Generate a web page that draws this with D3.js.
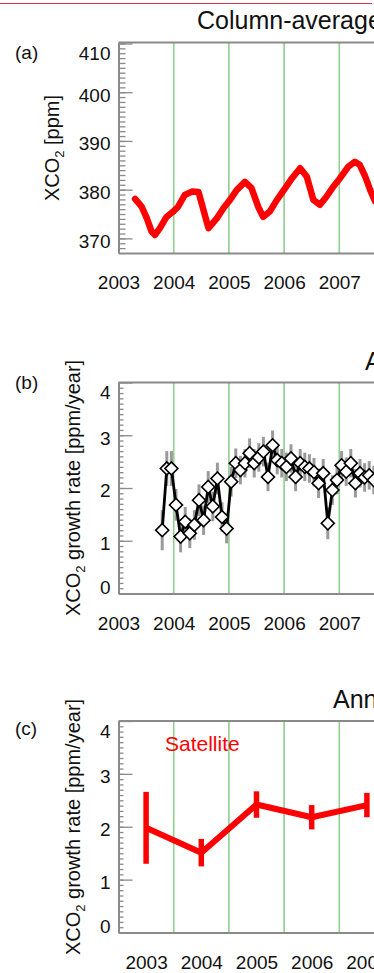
<!DOCTYPE html>
<meta charset="utf-8">
<style>
body { margin: 0; background: #fff; }
svg { display: block; font-family: 'Liberation Sans', Arial, sans-serif; }
text { fill: #111; }
.axis path.domain { stroke: #8a8a8a; stroke-width: 2px; }
.axis line { stroke: #8a8a8a; stroke-width: 1.3px; }
.axis text { font-size: 19px; fill: #111; }
.frame-top { stroke: #8a8a8a; stroke-width: 2px; }
.year-line { stroke: #8fcf8f; stroke-width: 1.6px; }
.panel-letter { font-size: 19px; }
.axis-title { font-size: 20px; text-anchor: middle; }
.panel-title { font-size: 25px; }
.xco2-line { fill: none; stroke: #ff0000; stroke-width: 6.5px; stroke-linejoin: round; stroke-linecap: round; }
.rate-err { stroke: #9a9a9a; stroke-width: 3px; }
.rate-line { fill: none; stroke: #000; stroke-width: 2.8px; stroke-linejoin: round; }
.rate-dot { fill: #fff; stroke: #000; stroke-width: 1.6px; }
.annual-line { fill: none; stroke: #ff0000; stroke-width: 6px; stroke-linejoin: round; }
.annual-err { stroke: #ff0000; stroke-width: 5.5px; }
.sat-label { font-size: 21px; fill: #ff0000; }
</style>
<svg width="374" height="973"></svg>
<script src="https://d3js.org/d3.v7.min.js"></script>
<script>
// ---- data ----
var yearTicks = [2003, 2004, 2005, 2006, 2007];
var ppmTicks = [370, 380, 390, 400, 410];
var rateTicks = [0, 1, 2, 3, 4];

// (a) column-averaged CO2
var xco2Dates = [2003.30, 2003.42, 2003.51, 2003.60, 2003.66, 2003.75, 2003.87, 2003.99,
                 2004.08, 2004.20, 2004.33, 2004.45, 2004.54, 2004.63, 2004.78, 2004.90,
                 2005.02, 2005.14, 2005.29, 2005.41, 2005.53, 2005.62, 2005.74, 2005.87,
                 2006.02, 2006.14, 2006.29, 2006.41, 2006.53, 2006.65, 2006.77, 2006.89,
                 2007.01, 2007.16, 2007.28, 2007.37, 2007.47, 2007.56, 2007.65];
var xco2Values = [378.1, 376.5, 374.2, 371.4, 370.7, 372.1, 374.4, 375.5,
                  376.5, 378.9, 379.6, 379.5, 375.8, 372.1, 374.1, 376.2,
                  377.9, 379.9, 381.6, 380.3, 376.5, 374.4, 375.5, 377.9,
                  380.3, 382.3, 384.4, 382.7, 377.9, 376.9, 378.6, 380.6,
                  382.3, 384.7, 385.7, 385.1, 382.7, 379.9, 377.6];

// (b) monthly growth rate
var growthMonths = ["2003-10","2003-11","2003-12",
  "2004-01","2004-02","2004-03","2004-04","2004-05","2004-06","2004-07","2004-08","2004-09","2004-10","2004-11","2004-12",
  "2005-01","2005-02","2005-03","2005-04","2005-05","2005-06","2005-07","2005-08","2005-09","2005-10","2005-11","2005-12",
  "2006-01","2006-02","2006-03","2006-04","2006-05","2006-06","2006-07","2006-08","2006-09","2006-10","2006-11","2006-12",
  "2007-01","2007-02","2007-03","2007-04","2007-05","2007-06","2007-07","2007-08"];
var growthValues = [1.20, 2.37, 2.37,
  1.68, 1.08, 1.36, 1.14, 1.30, 1.77, 1.39, 2.02, 1.65, 2.18, 1.45, 1.23,
  2.12, 2.47, 2.34, 2.47, 2.66, 2.47, 2.58, 2.69, 2.21, 2.81, 2.53, 2.47,
  2.40, 2.56, 2.21, 2.47, 2.40, 2.37, 2.30, 2.09, 2.28, 1.33, 1.96, 2.15,
  2.43, 2.31, 2.47, 2.09, 2.28, 2.20, 2.24, 2.15];
var growthErrors = [0.38, 0.33, 0.33,
  0.30, 0.30, 0.28, 0.28, 0.28, 0.30, 0.28, 0.30, 0.28, 0.30, 0.28, 0.28,
  0.28, 0.28, 0.27, 0.27, 0.28, 0.27, 0.27, 0.28, 0.27, 0.28, 0.27, 0.27,
  0.27, 0.27, 0.27, 0.27, 0.27, 0.27, 0.27, 0.28, 0.27, 0.30, 0.28, 0.27,
  0.27, 0.27, 0.27, 0.27, 0.27, 0.27, 0.27, 0.27];

// (c) annual mean growth rate
var annualYears = [2003, 2004, 2005, 2006, 2007];
var annualValues = [1.98, 1.51, 2.42, 2.18, 2.41];
var annualErrors = [0.68, 0.26, 0.25, 0.23, 0.23];

// ---- layout ----
var svg = d3.select("svg"),
    left = 118.5,
    yearW = 55.2,
    right = left + 6 * yearW;

svg.append("line")
    .attr("x1", 0).attr("x2", 372)
    .attr("y1", 3.5).attr("y2", 3.5)
    .attr("stroke", "#c8354f").attr("stroke-width", 1);

function monthToYear(s) {
  var p = s.split("-");
  return +p[0] + (+p[1] - 0.5) / 12;
}

// shared frame for a panel: green year lines, y axis with minor ticks
function drawFrame(x, y, yMajor, yMinor, greenYears, minorLen) {
  var top = y.range()[1], bottom = y.range()[0];
  var g = svg.append("g");

  g.selectAll(".year-line")
      .data(greenYears)
    .enter().append("line")
      .attr("class", "year-line")
      .attr("x1", x).attr("x2", x)
      .attr("y1", top).attr("y2", bottom);

  g.append("line")
      .attr("class", "frame-top")
      .attr("x1", left).attr("x2", right)
      .attr("y1", top).attr("y2", top);

  g.append("g")
      .attr("class", "axis")
      .attr("transform", "translate(" + left + ",0)")
      .call(d3.axisLeft(y).tickValues(yMinor).tickSize(-minorLen).tickSizeOuter(0).tickFormat(""));

  var yMax = d3.max(yMajor), yMin = d3.min(yMajor);
  var ax = g.append("g")
      .attr("class", "axis")
      .attr("transform", "translate(" + left + ",0)")
      .call(d3.axisLeft(y).tickValues(yMajor).tickSize(-14).tickSizeOuter(0).tickPadding(8).tickFormat(d3.format("d")));
  ax.selectAll(".tick text")
      .attr("dy", function(d) {
        if (d === yMax && y(d) - top < 3) return "0.86em";
        if (d === yMin && bottom - y(d) < 3) return "0em";
        return "0.47em";
      });

  return g;
}

function drawXLabels(x, y, ticks) {
  var bottom = y.range()[0];
  svg.append("g")
      .attr("class", "axis")
      .attr("transform", "translate(0," + bottom + ")")
      .call(d3.axisBottom(x).tickValues(ticks).tickSize(0).tickPadding(23).tickFormat(d3.format("d")));
}

function axisTitle(cx, cy, rest) {
  var t = svg.append("text")
      .attr("class", "axis-title")
      .attr("transform", "translate(" + cx + "," + cy + ") rotate(-90)");
  t.append("tspan").text("XCO");
  t.append("tspan").attr("font-size", "13px").attr("dy", 5).text("2");
  t.append("tspan").attr("dy", -5).text(rest);
}

// ---- (a) ----
var xA = d3.scaleLinear().domain([2003, 2009]).range([left, right]);
var yA = d3.scaleLinear().domain([367, 410.2]).range([253, 42.5]);

drawFrame(xA, yA, ppmTicks, d3.range(368, 411, 1), [2004, 2005, 2006, 2007, 2008], 7);

svg.append("path")
    .datum(xco2Dates.map(function(d, i) { return [d, xco2Values[i]]; }))
    .attr("class", "xco2-line")
    .attr("d", d3.line().x(function(d) { return xA(d[0]); }).y(function(d) { return yA(d[1]); }));

drawXLabels(xA, yA, yearTicks);
axisTitle(58.5, 148, " [ppm]");

svg.append("text").attr("class", "panel-letter").attr("x", 15).attr("y", 59).text("(a)");
svg.append("text").attr("class", "panel-title").attr("x", 197).attr("y", 28.5).text("Column-averaged CO\u2082 (SCIAMACHY)");

// ---- (b) ----
var yB = d3.scaleLinear().domain([0, 4]).range([593.5, 382.5]);

drawFrame(xA, yB, rateTicks, d3.range(0.1, 4, 0.1), [2004, 2005, 2006, 2007, 2008], 5);

var growth = growthMonths.map(function(m, i) {
  return { t: monthToYear(m), v: growthValues[i], e: growthErrors[i] };
});

svg.append("g").selectAll("line")
    .data(growth)
  .enter().append("line")
    .attr("class", "rate-err")
    .attr("x1", function(d) { return xA(d.t); })
    .attr("x2", function(d) { return xA(d.t); })
    .attr("y1", function(d) { return yB(d.v + d.e); })
    .attr("y2", function(d) { return yB(d.v - d.e); });

svg.append("path")
    .datum(growth)
    .attr("class", "rate-line")
    .attr("d", d3.line().x(function(d) { return xA(d.t); }).y(function(d) { return yB(d.v); }));

svg.append("g").selectAll("path")
    .data(growth)
  .enter().append("path")
    .attr("class", "rate-dot")
    .attr("transform", function(d) { return "translate(" + xA(d.t) + "," + yB(d.v) + ") rotate(45)"; })
    .attr("d", d3.symbol(d3.symbolSquare, 84));

drawXLabels(xA, yB, yearTicks);
axisTitle(80, 488, " growth rate [ppm/year]");

svg.append("text").attr("class", "panel-letter").attr("x", 15).attr("y", 389).text("(b)");
svg.append("text").attr("class", "panel-title").attr("x", 365).attr("y", 370).text("Annual increase");

// ---- (c) ----
var xC = d3.scaleLinear().domain([2002.5, 2008.5]).range([left, right]);
var yC = d3.scaleLinear().domain([0, 4]).range([932.5, 721]);

drawFrame(xC, yC, rateTicks, d3.range(0.1, 4, 0.1), [2003.5, 2004.5, 2005.5, 2006.5, 2007.5], 5);

var annual = annualYears.map(function(yr, i) {
  return { t: yr, v: annualValues[i], e: annualErrors[i] };
});

svg.append("path")
    .datum(annual)
    .attr("class", "annual-line")
    .attr("d", d3.line().x(function(d) { return xC(d.t); }).y(function(d) { return yC(d.v); }));

svg.append("g").selectAll("line")
    .data(annual)
  .enter().append("line")
    .attr("class", "annual-err")
    .attr("x1", function(d) { return xC(d.t); })
    .attr("x2", function(d) { return xC(d.t); })
    .attr("y1", function(d) { return yC(d.v + d.e); })
    .attr("y2", function(d) { return yC(d.v - d.e); });

drawXLabels(xC, yC, yearTicks);
axisTitle(80, 827, " growth rate [ppm/year]");

svg.append("text").attr("class", "sat-label").attr("x", 165).attr("y", 751).text("Satellite");
svg.append("text").attr("class", "panel-letter").attr("x", 15).attr("y", 735).text("(c)");
svg.append("text").attr("class", "panel-title").attr("x", 333).attr("y", 708).text("Annual mean increase");
</script>
